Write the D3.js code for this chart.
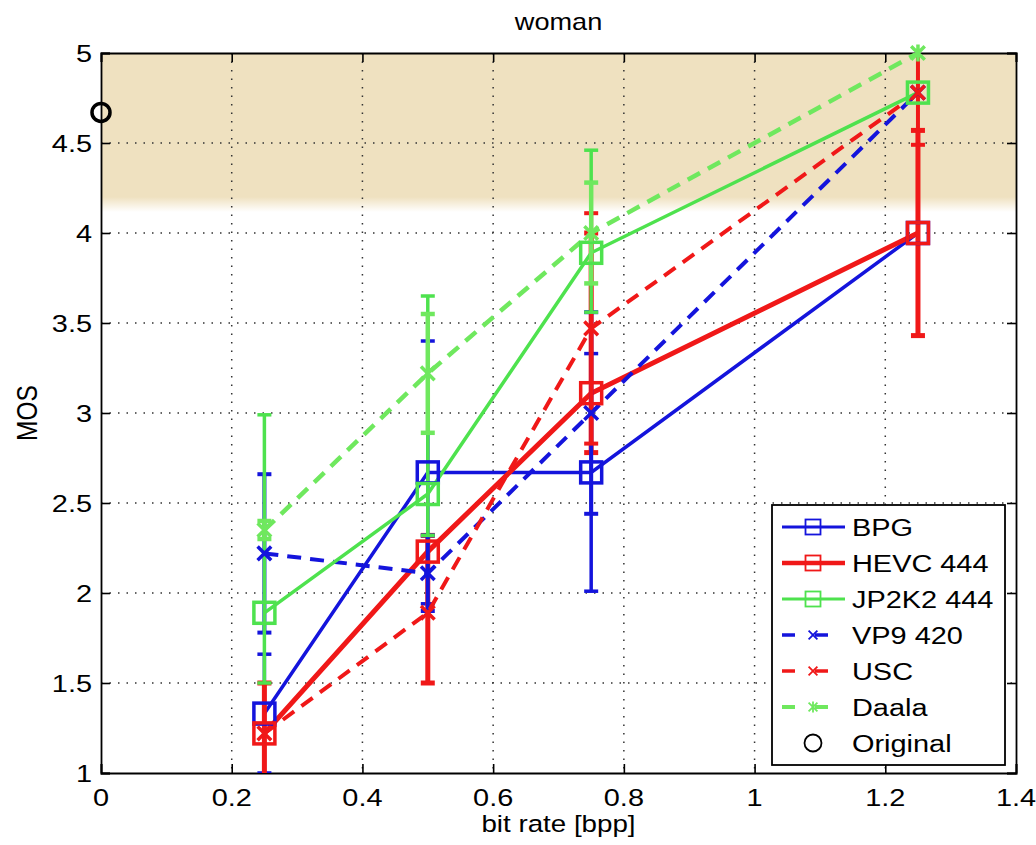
<!DOCTYPE html>
<html>
<head>
<meta charset="utf-8">
<script src="https://cdn.jsdelivr.net/npm/d3@7"></script>
<style>
  body { margin: 0; background: #fff; }
  svg { display: block; }
  text { font-family: "Liberation Sans", Arial, Helvetica, sans-serif; fill: #000; }
</style>
</head>
<body>
<svg id="chart" width="1036" height="845"></svg>
<script>
// ---- data ----
var bitRates = [0.25, 0.5, 0.75, 1.25];

var bpgMean  = [1.33, 2.67, 2.67, 4.00];
var bpgLo    = [1.00, 1.94, 2.01, 4.00];
var bpgHi    = [1.66, 3.40, 3.33, 4.00];

var hevcMean = [1.22, 2.23, 3.11, 4.00];
var hevcLo   = [0.94, 1.50, 2.78, 3.43];
var hevcHi   = [1.50, 2.32, 4.00, 4.57];

var jp2kMean = [1.89, 2.55, 3.89, 4.78];
var jp2kLo   = [1.50, 2.32, 3.56, 4.78];
var jp2kHi   = [2.99, 3.65, 4.46, 4.78];

var vp9Mean  = [2.22, 2.11, 3.00, 4.78];
var vp9Lo    = [1.78, 1.90, 2.44, 4.78];
var vp9Hi    = [2.66, 2.32, 3.56, 4.78];

var uscMean  = [1.22, 1.89, 3.47, 4.78];
var uscLo    = [1.22, 1.89, 2.83, 4.49];
var uscHi    = [1.22, 1.89, 4.11, 5.07];

var daalaMean = [2.35, 3.22, 4.00, 5.00];
var daalaLo   = [2.30, 2.89, 3.72, 5.00];
var daalaHi   = [2.40, 3.55, 4.28, 5.00];

var originalRate = 0, originalMos = 4.67;
var bandTop = 5, bandBottom = 4.2;

var xTicks = [0, 0.2, 0.4, 0.6, 0.8, 1, 1.2, 1.4];
var yTicks = [1, 1.5, 2, 2.5, 3, 3.5, 4, 4.5, 5];

// ---- layout ----
var margin = { top: 53, right: 20, bottom: 72, left: 101 };
var width = 1036 - margin.left - margin.right;   // 915
var height = 845 - margin.top - margin.bottom;   // 720
var sx = 1.18; // the original text is a bit wide

var svg = d3.select("#chart");
var g = svg.append("g").attr("transform", "translate(" + margin.left + "," + margin.top + ")");

var x = d3.scaleLinear().domain([0, 1.4]).range([0, width]);
var y = d3.scaleLinear().domain([1, 5]).range([height, 0]);

var BLUE = "#1414dc", RED = "#f01818", GREEN = "#4ee24e", LGREEN = "#6fe85e";

var series = [
  { name: "BPG", mean: bpgMean, lo: bpgLo, hi: bpgHi, color: BLUE, w: 3.5, dash: null, marker: "square" },
  { name: "HEVC 444", mean: hevcMean, lo: hevcLo, hi: hevcHi, color: RED, w: 5, dash: null, marker: "square" },
  { name: "VP9 420", mean: vp9Mean, lo: vp9Lo, hi: vp9Hi, color: BLUE, w: 4, dash: "14,9", marker: "x" },
  { name: "USC", mean: uscMean, lo: uscLo, hi: uscHi, color: RED, w: 4, dash: "14,9", marker: "x" },
  { name: "JP2K2 444", mean: jp2kMean, lo: jp2kLo, hi: jp2kHi, color: GREEN, w: 3.5, dash: null, marker: "square" },
  { name: "Daala", mean: daalaMean, lo: daalaLo, hi: daalaHi, color: LGREEN, w: 4.5, dash: "14,9", marker: "star" }
];
var legendOrder = ["BPG", "HEVC 444", "JP2K2 444", "VP9 420", "USC", "Daala"];

function addText(sel, tx, ty, str, size, anchor, rot) {
  var t = "translate(" + tx + "," + ty + ") scale(" + sx + ",1)";
  if (rot) t += " rotate(" + rot + ")";
  return sel.append("text")
    .attr("transform", t)
    .style("font-size", size + "px")
    .style("text-anchor", anchor)
    .text(str);
}

// shaded band for the original quality
var defs = svg.append("defs");
var grad = defs.append("linearGradient").attr("id", "fade").attr("x1", 0).attr("y1", 0).attr("x2", 0).attr("y2", 1);
grad.append("stop").attr("offset", "0%").attr("stop-color", "#efe1c0").attr("stop-opacity", 1);
grad.append("stop").attr("offset", "100%").attr("stop-color", "#efe1c0").attr("stop-opacity", 0);

defs.append("clipPath").attr("id", "plotclip")
  .append("rect").attr("width", width).attr("height", height);

g.append("rect")
  .attr("x", 0).attr("y", y(bandTop))
  .attr("width", width).attr("height", y(bandBottom) - y(bandTop))
  .attr("fill", "#efe1c0");
g.append("rect")
  .attr("x", 0).attr("y", y(bandBottom))
  .attr("width", width).attr("height", 15)
  .attr("fill", "url(#fade)");

// grid
g.append("g").selectAll("line").data(xTicks.slice(1, -1)).enter().append("line")
  .attr("x1", function(d) { return x(d); }).attr("x2", function(d) { return x(d); })
  .attr("y1", 0).attr("y2", height)
  .attr("stroke", "#333").attr("stroke-width", 1.5).attr("stroke-dasharray", "1.5,7");
g.append("g").selectAll("line").data(yTicks.slice(1, -1)).enter().append("line")
  .attr("y1", function(d) { return y(d); }).attr("y2", function(d) { return y(d); })
  .attr("x1", 0).attr("x2", width)
  .attr("stroke", "#333").attr("stroke-width", 1.5).attr("stroke-dasharray", "1.5,7");

// axes, ticks inward on all sides
var xb = g.append("g").attr("transform", "translate(0," + height + ")")
  .call(d3.axisBottom(x).tickValues(xTicks).tickSize(-9).tickPadding(14).tickFormat(d3.format("~g")));
var xt = g.append("g").call(d3.axisTop(x).tickValues(xTicks).tickSize(-9).tickFormat(""));
var yl = g.append("g")
  .call(d3.axisLeft(y).tickValues(yTicks).tickSize(-9).tickPadding(14).tickFormat(d3.format("~g")));
var yr = g.append("g").attr("transform", "translate(" + width + ",0)")
  .call(d3.axisRight(y).tickValues(yTicks).tickSize(-9).tickFormat(""));
[xb, xt, yl, yr].forEach(function(a) {
  a.selectAll("path").attr("stroke", "#000").attr("stroke-width", 1.8);
  a.selectAll("line").attr("stroke", "#000").attr("stroke-width", 1.6);
  a.selectAll("text").remove();
});
// tick labels drawn by hand so they can be stretched like the original
xTicks.forEach(function(d) { addText(g, x(d), height + 33, d3.format("~g")(d), 24.5, "middle"); });
yTicks.forEach(function(d) { addText(g, -9, y(d) + 9, d3.format("~g")(d), 24.5, "end"); });

// titles
addText(svg, margin.left + width / 2, 30, "woman", 23, "middle");
addText(svg, margin.left + width / 2, 832, "bit rate [bpp]", 23.5, "middle");
addText(svg, 37, margin.top + height / 2, "MOS", 24.5, "middle", -90);

// markers
function drawMarker(sel, type, cx, cy, color, size, sw) {
  var h = size / 2;
  if (type === "square") {
    sel.append("rect").attr("x", cx - h).attr("y", cy - h).attr("width", size).attr("height", size)
      .attr("fill", "none").attr("stroke", color).attr("stroke-width", sw);
  } else if (type === "x" || type === "star") {
    var k = h * 0.8;
    sel.append("path")
      .attr("d", "M" + (cx - k) + "," + (cy - k) + "L" + (cx + k) + "," + (cy + k) +
                 "M" + (cx - k) + "," + (cy + k) + "L" + (cx + k) + "," + (cy - k) +
                 (type === "star" ? "M" + cx + "," + (cy - h) + "L" + cx + "," + (cy + h) : ""))
      .attr("fill", "none").attr("stroke", color).attr("stroke-width", sw);
  } else if (type === "circle") {
    sel.append("circle").attr("cx", cx).attr("cy", cy).attr("r", h)
      .attr("fill", "none").attr("stroke", color).attr("stroke-width", sw);
  }
}

var plot = g.append("g").attr("clip-path", "url(#plotclip)");
var marks = g.append("g");
var line = d3.line().x(function(d) { return x(d.r); }).y(function(d) { return y(d.m); });

series.forEach(function(s) {
  var pts = bitRates.map(function(r, i) { return { r: r, m: s.mean[i], lo: s.lo[i], hi: s.hi[i] }; });
  var sg = plot.append("g");
  sg.append("path").datum(pts).attr("d", line)
    .attr("fill", "none").attr("stroke", s.color).attr("stroke-width", s.w)
    .attr("stroke-dasharray", s.dash);
  pts.forEach(function(p) {
    if (p.hi === p.lo) return;
    var cx = x(p.r);
    sg.append("line").attr("x1", cx).attr("x2", cx).attr("y1", y(p.lo)).attr("y2", y(p.hi))
      .attr("stroke", s.color).attr("stroke-width", s.w);
    [p.lo, p.hi].forEach(function(v) {
      sg.append("line").attr("x1", cx - 7).attr("x2", cx + 7).attr("y1", y(v)).attr("y2", y(v))
        .attr("stroke", s.color).attr("stroke-width", s.w);
    });
  });
  pts.forEach(function(p) {
    drawMarker(marks, s.marker, x(p.r), y(p.m), s.color, s.marker === "square" ? 21 : 17, 3.5);
  });
});

drawMarker(marks, "circle", x(originalRate), y(originalMos), "#000", 18, 3.5);

// legend
var lg = svg.append("g");
var lx = 772, ly = 505, lw = 233, lh = 260, step = 36;
lg.append("rect").attr("x", lx).attr("y", ly).attr("width", lw).attr("height", lh)
  .attr("fill", "#fff").attr("stroke", "#000").attr("stroke-width", 1.8);

var legendItems = legendOrder.map(function(n) { return series.filter(function(s) { return s.name === n; })[0]; });
legendItems.push({ name: "Original", color: "#000", marker: "circle" });

legendItems.forEach(function(s, i) {
  var cy = ly + 22 + i * step;
  if (s.name !== "Original") {
    var ln = lg.append("line").attr("x1", 782).attr("x2", 845).attr("y1", cy).attr("y2", cy)
      .attr("stroke", s.color).attr("stroke-width", s.w - 0.5);
    if (s.dash) ln.attr("stroke-dasharray", "13,20");
  }
  drawMarker(lg, s.marker, 813, cy, s.color, s.marker === "square" ? 15 : (s.marker === "circle" ? 17 : 11),
             s.marker === "circle" ? 1.8 : 1.8);
  addText(lg, 852, cy + 9, s.name, 24.5, "start");
});
</script>
</body>
</html>
